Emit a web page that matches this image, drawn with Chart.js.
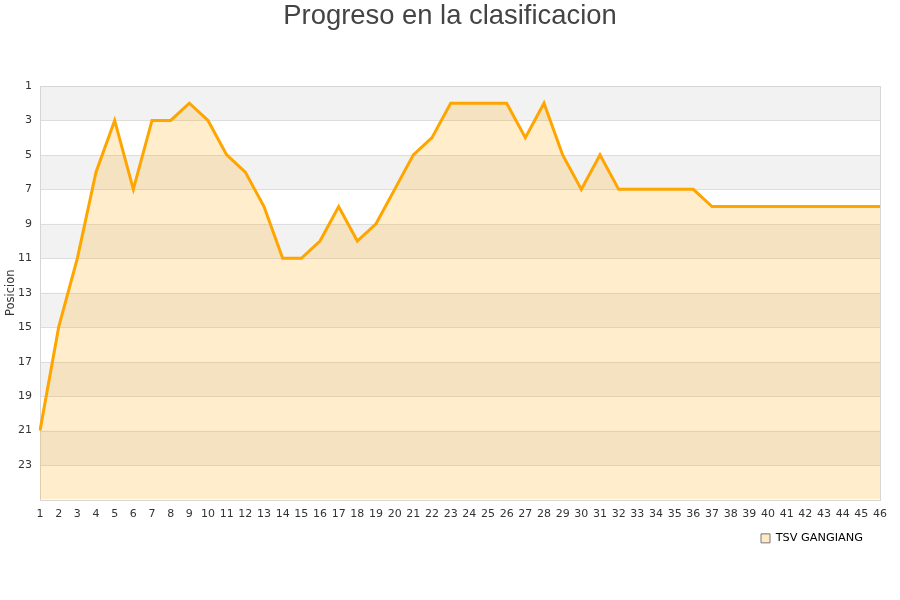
<!DOCTYPE html>
<html>
<head>
<meta charset="utf-8">
<script src="https://cdn.jsdelivr.net/npm/chart.js@4/dist/chart.umd.min.js"></script>
<style>
  html, body { margin: 0; padding: 0; background: #fff; }
  #wrap { width: 900px; height: 600px; }
</style>
</head>
<body>
<div id="wrap"><canvas id="myChart" width="900" height="600"></canvas></div>
<script>
// jornadas 1..46
const jornadas = [];
for (let i = 1; i <= 46; i++) jornadas.push(String(i));

// posicion por jornada
const posiciones = [
  21, 15, 11, 6, 3, 7, 3, 3, 2, 3,
  5, 6, 8, 11, 11, 10, 8, 10, 9, 7,
  5, 4, 2, 2, 2, 2, 4, 2, 5, 7,
  5, 7, 7, 7, 7, 7, 8, 8, 8, 8,
  8, 8, 8, 8, 8, 8
];

const equipo = "TSV GANGIANG";
const tituloGrafico = "Progreso en la clasificacion";
const tituloEje = "Posicion";
const posMin = 1;
const posMax = 25;

// bandas grises alternas + borde
const bandas = {
  id: "bandas",
  afterLayout(chart) {
    // leyenda algo a la izquierda, titulo centrado en el lienzo
    chart.legend.left -= 5;
    chart.legend.right -= 5;
    chart.titleBlock.left += 10;
    chart.titleBlock.right += 10;
  },
  beforeDatasetsDraw(chart) {
    const ctx = chart.ctx;
    const a = chart.chartArea;
    const y = chart.scales.y;
    ctx.save();
    let gris = true;
    for (let v = posMin; v < posMax; v += 2) {
      if (gris) {
        const y1 = y.getPixelForValue(v);
        const y2 = y.getPixelForValue(v + 2);
        ctx.fillStyle = "#f2f2f2";
        ctx.fillRect(a.left, y1, a.right - a.left, y2 - y1);
      }
      gris = !gris;
    }
    ctx.strokeStyle = "#dddddd";
    ctx.lineWidth = 1;
    for (let v = posMin; v <= posMax; v += 2) {
      const py = Math.round(y.getPixelForValue(v)) + 0.5;
      ctx.beginPath();
      ctx.moveTo(a.left, py);
      ctx.lineTo(a.right, py);
      ctx.stroke();
    }
    ctx.strokeStyle = "#d6d6d6";
    ctx.strokeRect(Math.round(a.left) + 0.5, Math.round(a.top) + 0.5,
      Math.round(a.right - a.left), Math.round(a.bottom - a.top));
    ctx.restore();
  }
};

const config = {
  type: "line",
  data: {
    labels: jornadas,
    datasets: [{
      label: equipo,
      data: posiciones,
      borderColor: "#ffa500",
      borderWidth: 3,
      backgroundColor: "rgba(255, 165, 0, 0.2)",
      fill: { value: posMax },
      pointRadius: 0,
      tension: 0
    }]
  },
  options: {
    responsive: false,
    animation: false,
    layout: { padding: { left: 0, right: 20, top: 0, bottom: 46 } },
    scales: {
      x: {
        grid: { display: false },
        border: { display: false },
        ticks: {
          autoSkip: false,
          maxRotation: 0,
          color: "#333",
          padding: 0,
          font: { family: "DejaVu Sans", size: 11 }
        }
      },
      y: {
        reverse: true,
        min: posMin,
        max: posMax,
        grid: { display: false },
        border: { display: false },
        afterFit(scale) { scale.width = 40; },
        afterBuildTicks(scale) {
          scale.ticks = scale.ticks.filter(t => t.value < posMax);
        },
        ticks: {
          stepSize: 2,
          color: "#333",
          padding: 0,
          font: { family: "DejaVu Sans", size: 11 }
        },
        title: {
          display: true,
          text: tituloEje,
          color: "#333",
          padding: { top: 4, bottom: 0 },
          font: { family: "DejaVu Sans", size: 11.5 }
        }
      }
    },
    plugins: {
      title: {
        display: true,
        text: tituloGrafico,
        color: "#444",
        padding: { top: 0, bottom: 53.1 },
        font: { family: "Liberation Sans", size: 27.4, weight: "normal" }
      },
      legend: {
        position: "bottom",
        align: "end",
        labels: {
          boxWidth: 9,
          boxHeight: 9,
          padding: 12,
          color: "#000",
          font: { family: "DejaVu Sans", size: 11.3 },
          generateLabels(chart) {
            return chart.data.datasets.map((ds, i) => ({
              text: ds.label,
              fillStyle: "#ffe9c6",
              strokeStyle: "#777",
              lineWidth: 1,
              fontColor: "#000",
              datasetIndex: i
            }));
          }
        }
      },
      tooltip: { enabled: false }
    }
  },
  plugins: [bandas]
};

new Chart(document.getElementById("myChart").getContext("2d"), config);
</script>
</body>
</html>
